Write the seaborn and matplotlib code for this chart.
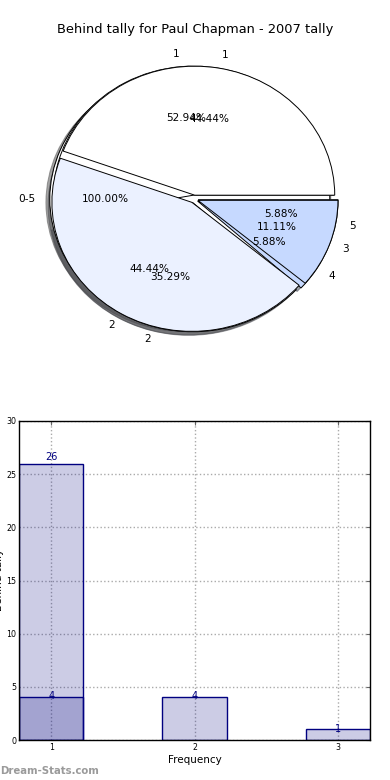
import numpy as np
import pandas as pd
import matplotlib
matplotlib.use("Agg")
import matplotlib.pyplot as plt
import seaborn as sns

sns.set_style("white")
plt.rcParams['font.family'] = ['DejaVu Sans']
plt.rcParams['text.color'] = 'black'
plt.rcParams['axes.labelcolor'] = 'black'
plt.rcParams['xtick.color'] = 'black'
plt.rcParams['ytick.color'] = 'black'

# ---- data ----
title = "Behind tally for Paul Chapman - 2007 tally"
pie_all_labels = ["0-5"]
pie_all_values = [1]
pie_a_labels = ["1", "2", "4", "5"]
pie_a_values = [9, 6, 1, 1]
pie_b_labels = ["1", "2", "3"]
pie_b_values = [4, 4, 1]

bar_positions = [1, 2, 3]
bar_values = [26, 4, 1]
overlay_positions = [1]
overlay_values = [4]
x_label = "Frequency"
y_label = "Behind tally"

W, H = 390, 780
fig = plt.figure(figsize=(W / 100, H / 100), dpi=100)

def fx(px):
    return px / W

def fy(py):
    return 1 - py / H

# ---- pie axes ----
cx, cy, rx, ry = 194, 199, 140, 129
lim = 1.25
ax1 = fig.add_axes([fx(cx - lim * rx), fy(cy + lim * ry), 2 * lim * rx / W, 2 * lim * ry / H])

pie_colors_all = ["white"]
pie_colors_a = ["white", "#ebf1ff", "#c6d9ff", "#a9c4fb"]
pie_colors_b = ["white", "#ebf1ff", "#c6d9ff"]
wp = dict(edgecolor="black", linewidth=0.7)
tp = dict(fontsize=7.6, color="black")
for vals, labs, cols in [(pie_all_values, pie_all_labels, pie_colors_all),
                         (pie_a_values, pie_a_labels, pie_colors_a),
                         (pie_b_values, pie_b_labels, pie_colors_b)]:
    ax1.pie(vals, labels=labs, colors=cols, explode=[0.03] * len(vals),
            autopct="%1.2f%%", shadow=True, wedgeprops=wp, textprops=tp)
ax1.set_aspect("auto")
ax1.set_xlim(-lim, lim)
ax1.set_ylim(-lim, lim)
ax1.axis("off")

fig.text(fx(195), fy(30), title, ha="center", va="center", fontsize=9.4, color="black")

# ---- bar axes ----
ax2 = fig.add_axes([fx(19), fy(740), (370 - 19) / W, (740 - 421) / H])
df_bars = pd.DataFrame({"pos": bar_positions, "val": bar_values})
df_over = pd.DataFrame({"pos": overlay_positions, "val": overlay_values})
sns.barplot(data=df_bars, x="pos", y="val", native_scale=True, width=0.45,
            color="navy", ax=ax2, zorder=2)
sns.barplot(data=df_over, x="pos", y="val", native_scale=True, width=0.45,
            color="navy", ax=ax2, zorder=2)
for p in ax2.patches:
    p.set_facecolor((0, 0, 0.5, 0.2))
    p.set_edgecolor("navy")
    p.set_linewidth(1.0)
    p.set_width(0.45)
for pos, val in list(zip(bar_positions, bar_values)) + list(zip(overlay_positions, overlay_values)):
    ax2.text(pos, val * 1.025, "%d" % val, ha="center", va="center",
             color="navy", fontsize=7)

ax2.set_xlim(0.775, 3.225)
ax2.set_ylim(0, 30)
ax2.set_xticks(bar_positions)
ax2.set_xticklabels([str(v) for v in bar_positions])
ax2.set_yticks(np.arange(0, 31, 5))
ax2.tick_params(direction="in", length=3, labelsize=5.7, top=True, right=True,
                color="#666666", labelcolor="black", pad=2)
ax2.grid(True, linestyle=":", color="#aaaaaa", linewidth=1)
ax2.set_axisbelow(True)
for s in ax2.spines.values():
    s.set_color("black")
    s.set_linewidth(1)
    s.set_visible(True)
    s.set_zorder(5)
ax2.set_xlabel(x_label, fontsize=7.5, labelpad=2, color="black")
ax2.set_ylabel("")
fig.text(fx(-1), fy(580), y_label, rotation=90, ha="center", va="center", fontsize=7.5,
         color="black")

fig.text(fx(0), fy(771), "Dream-Stats.com", ha="left", va="center",
         fontsize=7.3, fontweight="bold", color="#9a9a9a")

fig.savefig("out.png", dpi=100)
